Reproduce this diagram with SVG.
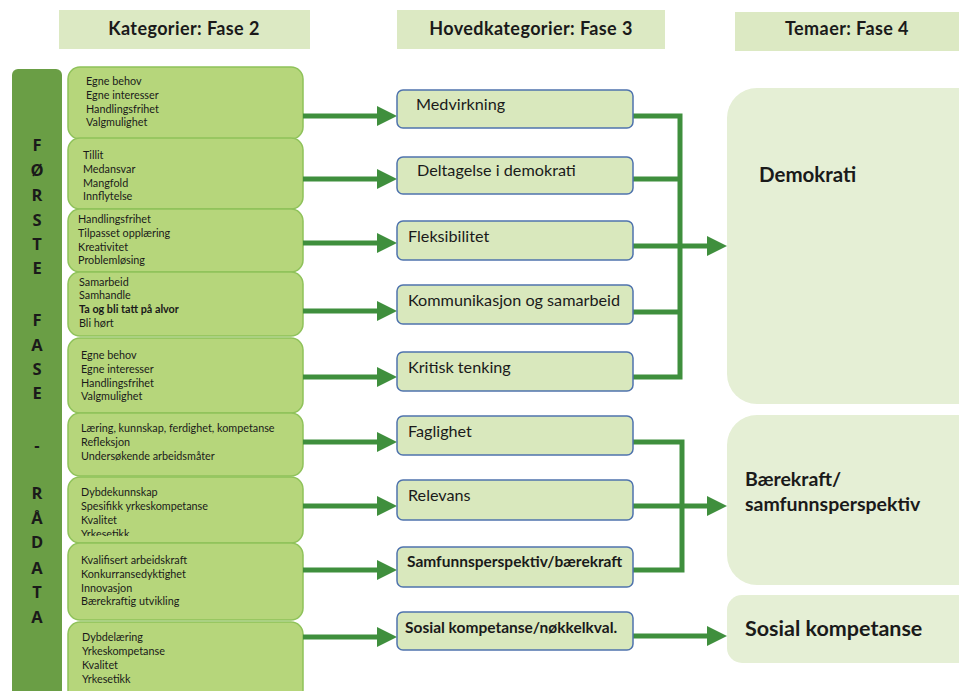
<svg xmlns="http://www.w3.org/2000/svg" width="959" height="691" viewBox="0 0 959 691">
<style>
.hdr{fill:#dce9c3}
.hdrt{font-family:Lato,"Liberation Sans",sans-serif;font-weight:bold;font-size:18px;letter-spacing:0.4px;fill:#1a1a1a;text-anchor:middle}
.strip{fill:#6a9e45}
.vt{font-family:"Open Sans","Liberation Sans",sans-serif;font-weight:bold;font-size:16.5px;fill:#1a1a1a;text-anchor:middle}
.lb{fill:#b6d67b;stroke:#8fc25a;stroke-width:1.5}
.lt{font-family:Lato,"Liberation Sans",sans-serif;font-size:10.8px;fill:#1a1a1a}
.mb{fill:#d9e8bd;stroke:#4f73ad;stroke-width:1.5}
.mt{font-family:Lato,"Liberation Sans",sans-serif;font-size:16.2px;fill:#1a1a1a}
.mtb{font-family:Lato,"Liberation Sans",sans-serif;font-size:15.5px;font-weight:bold;fill:#1a1a1a}
.rb{fill:#e5efd5}
.rt{font-family:Lato,"Liberation Sans",sans-serif;font-weight:bold;fill:#1a1a1a}
.con{fill:none;stroke:#3f8f3d;stroke-width:5}
</style>
<defs>
<marker id="ah" markerUnits="strokeWidth" markerWidth="4" markerHeight="4" refX="0.6" refY="2" orient="auto" viewBox="0 0 4 4">
<path d="M0,0 L4,2 L0,4 z" fill="#3f8f3d"/>
</marker>
<clipPath id="c7"><rect x="60" y="470" width="250" height="66"/></clipPath>
</defs>
<rect width="959" height="691" fill="#ffffff"/>

<g id="headers">
<rect class="hdr" x="59" y="10" width="251" height="39"/>
<text class="hdrt" x="184" y="35">Kategorier: Fase 2</text>
<rect class="hdr" x="397" y="10" width="268" height="39"/>
<text class="hdrt" x="531" y="35">Hovedkategorier: Fase 3</text>
<rect class="hdr" x="735" y="12" width="224" height="39"/>
<text class="hdrt" x="847" y="35">Temaer: Fase 4</text>
</g>

<g id="rådata">
<rect class="strip" x="12" y="69" width="50" height="630" rx="6"/>
<text class="vt" x="37" y="151">F</text>
<text class="vt" x="37" y="176">Ø</text>
<text class="vt" x="37" y="201">R</text>
<text class="vt" x="37" y="226">S</text>
<text class="vt" x="37" y="250">T</text>
<text class="vt" x="37" y="274">E</text>
<text class="vt" x="37" y="326">F</text>
<text class="vt" x="37" y="351">A</text>
<text class="vt" x="37" y="375">S</text>
<text class="vt" x="37" y="399">E</text>
<text class="vt" x="37" y="451">-</text>
<text class="vt" x="37" y="499">R</text>
<text class="vt" x="37" y="524">Å</text>
<text class="vt" x="37" y="548">D</text>
<text class="vt" x="37" y="574">A</text>
<text class="vt" x="37" y="598">T</text>
<text class="vt" x="37" y="623">A</text>
</g>

<g id="k1">
<rect class="lb" x="68" y="67" width="235" height="72" rx="12"/>
<text class="lt" x="86" y="85">Egne behov</text>
<text class="lt" x="86" y="99">Egne interesser</text>
<text class="lt" x="86" y="113">Handlingsfrihet</text>
<text class="lt" x="86" y="126">Valgmulighet</text>
</g>
<g id="k2">
<rect class="lb" x="68" y="138" width="235" height="71" rx="12"/>
<text class="lt" x="83" y="159">Tillit</text>
<text class="lt" x="83" y="173">Medansvar</text>
<text class="lt" x="83" y="187">Mangfold</text>
<text class="lt" x="83" y="200">Innflytelse</text>
</g>
<g id="k3">
<rect class="lb" x="68" y="209" width="235" height="63" rx="12"/>
<text class="lt" x="78" y="223">Handlingsfrihet</text>
<text class="lt" x="78" y="237">Tilpasset opplæring</text>
<text class="lt" x="78" y="251">Kreativitet</text>
<text class="lt" x="78" y="264">Problemløsing</text>
</g>
<g id="k4">
<rect class="lb" x="68" y="272" width="235" height="64" rx="12"/>
<text class="lt" x="79" y="286">Samarbeid</text>
<text class="lt" x="79" y="299">Samhandle</text>
<text class="lt" x="79" y="313" font-weight="bold">Ta og bli tatt på alvor</text>
<text class="lt" x="79" y="327">Bli hørt</text>
</g>
<g id="k5">
<rect class="lb" x="68" y="338" width="235" height="75" rx="12"/>
<text class="lt" x="81" y="359">Egne behov</text>
<text class="lt" x="81" y="373">Egne interesser</text>
<text class="lt" x="81" y="387">Handlingsfrihet</text>
<text class="lt" x="81" y="400">Valgmulighet</text>
</g>
<g id="k6">
<rect class="lb" x="68" y="413" width="235" height="63" rx="12"/>
<text class="lt" x="81" y="432">Læring, kunnskap, ferdighet, kompetanse</text>
<text class="lt" x="81" y="446">Refleksjon</text>
<text class="lt" x="81" y="460">Undersøkende arbeidsmåter</text>
</g>
<g id="k7">
<rect class="lb" x="68" y="477" width="235" height="66" rx="12"/>
<g clip-path="url(#c7)">
<text class="lt" x="81" y="496">Dybdekunnskap</text>
<text class="lt" x="81" y="510">Spesifikk yrkeskompetanse</text>
<text class="lt" x="81" y="524">Kvalitet</text>
<text class="lt" x="81" y="538">Yrkesetikk</text>
</g>
</g>
<g id="k8">
<rect class="lb" x="68" y="543" width="235" height="77" rx="12"/>
<text class="lt" x="81" y="564">Kvalifisert arbeidskraft</text>
<text class="lt" x="81" y="578">Konkurransedyktighet</text>
<text class="lt" x="81" y="592">Innovasjon</text>
<text class="lt" x="81" y="605">Bærekraftig utvikling</text>
</g>
<g id="k9">
<rect class="lb" x="68" y="622" width="235" height="80" rx="12"/>
<text class="lt" x="82" y="641">Dybdelæring</text>
<text class="lt" x="82" y="655">Yrkeskompetanse</text>
<text class="lt" x="82" y="669">Kvalitet</text>
<text class="lt" x="82" y="683">Yrkesetikk</text>
</g>

<g id="connectors">
<path class="con" marker-end="url(#ah)" d="M303,116 H380"/>
<path class="con" marker-end="url(#ah)" d="M303,179 H380"/>
<path class="con" marker-end="url(#ah)" d="M303,243 H380"/>
<path class="con" marker-end="url(#ah)" d="M303,311 H380"/>
<path class="con" marker-end="url(#ah)" d="M303,377 H380"/>
<path class="con" marker-end="url(#ah)" d="M303,442 H380"/>
<path class="con" marker-end="url(#ah)" d="M303,506 H380"/>
<path class="con" marker-end="url(#ah)" d="M303,570 H380"/>
<path class="con" marker-end="url(#ah)" d="M303,637 H380"/>
<path class="con" d="M633,116 H680 V377 H633"/>
<path class="con" d="M633,179 H678"/>
<path class="con" d="M633,312 H678"/>
<path class="con" marker-end="url(#ah)" d="M633,246 H710"/>
<path class="con" d="M633,442 H682 V570 H633"/>
<path class="con" marker-end="url(#ah)" d="M633,506 H710"/>
<path class="con" marker-end="url(#ah)" d="M633,636 H710"/>
</g>

<g id="h1"><rect class="mb" x="397" y="90" width="236" height="38" rx="6"/><text class="mt" x="416" y="110">Medvirkning</text></g>
<g id="h2"><rect class="mb" x="397" y="157" width="236" height="37" rx="6"/><text class="mt" x="417" y="176">Deltagelse i demokrati</text></g>
<g id="h3"><rect class="mb" x="397" y="221" width="236" height="39" rx="6"/><text class="mt" x="408" y="242">Fleksibilitet</text></g>
<g id="h4"><rect class="mb" x="397" y="285" width="236" height="39" rx="6"/><text class="mt" x="408" y="306">Kommunikasjon og samarbeid</text></g>
<g id="h5"><rect class="mb" x="397" y="352" width="236" height="39" rx="6"/><text class="mt" x="408" y="373">Kritisk tenking</text></g>
<g id="h6"><rect class="mb" x="397" y="416" width="236" height="39" rx="6"/><text class="mt" x="408" y="437">Faglighet</text></g>
<g id="h7"><rect class="mb" x="397" y="480" width="236" height="40" rx="6"/><text class="mt" x="408" y="501">Relevans</text></g>
<g id="h8"><rect class="mb" x="397" y="547" width="236" height="40" rx="6"/><text class="mtb" x="407" y="567">Samfunnsperspektiv/bærekraft</text></g>
<g id="h9"><rect class="mb" x="397" y="612" width="236" height="38" rx="6"/><text class="mtb" x="405" y="633">Sosial kompetanse/nøkkelkval.</text></g>

<g id="t1"><rect class="rb" x="727" y="88" width="260" height="316" rx="30"/><text class="rt" x="759" y="182" font-size="20.5">Demokrati</text></g>
<g id="t2"><rect class="rb" x="727" y="415" width="260" height="170" rx="30"/><text class="rt" x="745" y="486" font-size="19.5">Bærekraft/</text><text class="rt" x="745" y="511" font-size="19.5">samfunnsperspektiv</text></g>
<g id="t3"><rect class="rb" x="727" y="595" width="260" height="68" rx="15"/><text class="rt" x="745" y="636" font-size="21.5">Sosial kompetanse</text></g>
</svg>
